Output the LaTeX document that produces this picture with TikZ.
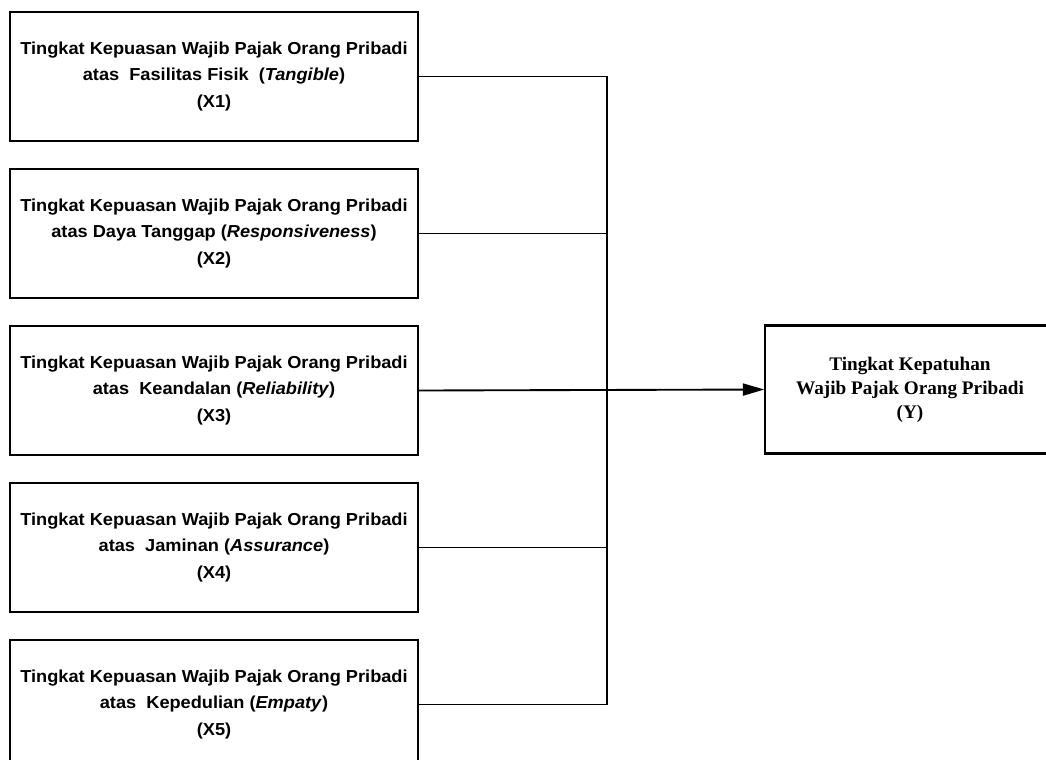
\documentclass[tikz,border=0pt]{standalone}
\usepackage{fontspec}
\setmainfont{Liberation Serif}
\newfontfamily\widesans[FakeStretch=1.05]{Liberation Sans}
\usetikzlibrary{arrows.meta}
\begin{document}
\begin{tikzpicture}[x=0.75pt,y=-0.75pt,
  dimbox/.style={draw,line width=1.6pt,minimum width=306pt,minimum height=97pt,
    align=center,font=\widesans\bfseries\fontsize{13}{20}\selectfont},
  ybox/.style={draw,line width=1.6pt,minimum width=217pt,minimum height=96pt,
    align=center,font=\bfseries\fontsize{14.4}{18}\selectfont},
  link/.style={line width=1.4pt}]
\clip (0,0) rectangle (1046,760);
\node[dimbox] (x1) at (214,76.5) {Tingkat Kepuasan Wajib Pajak Orang Pribadi\\atas~ Fasilitas Fisik~ (\textit{Tangible})\\(X1)};
\node[dimbox] (x2) at (214,233.5) {Tingkat Kepuasan Wajib Pajak Orang Pribadi\\atas Daya Tanggap (\textit{Responsiveness})\\(X2)};
\node[dimbox] (x3) at (214,390.5) {Tingkat Kepuasan Wajib Pajak Orang Pribadi\\atas~ Keandalan (\textit{Reliability})\\(X3)};
\node[dimbox] (x4) at (214,547.5) {Tingkat Kepuasan Wajib Pajak Orang Pribadi\\atas~ Jaminan (\textit{Assurance})\\(X4)};
\node[dimbox] (x5) at (214,704.5) {Tingkat Kepuasan Wajib Pajak Orang Pribadi\\atas~ Kepedulian (\textit{Empaty})\\(X5)};
\node[ybox] (y) at (910,389.5) {Tingkat Kepatuhan\\Wajib Pajak Orang Pribadi\\(Y)};
\coordinate (bus) at (607,390.5);
\draw[link] (x1.east) -| (bus);
\draw[link] (x5.east) -| (bus);
\draw[link] (x2.east) -- (x2.east -| bus);
\draw[link] (x4.east) -- (x4.east -| bus);
\draw[link,-{Triangle[length=16pt,width=9pt]}] (x3.east) -- (y.west);
\end{tikzpicture}
\end{document}
